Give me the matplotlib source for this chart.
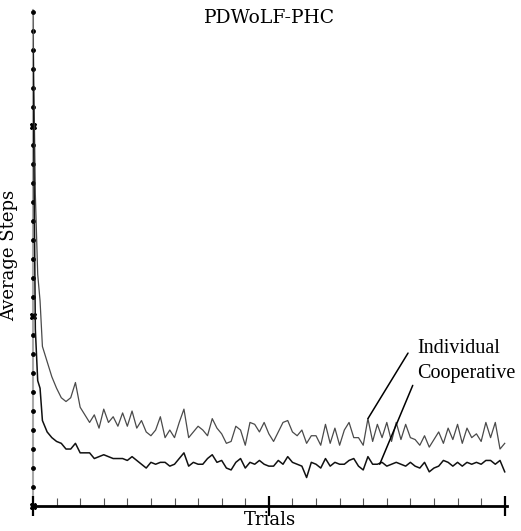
import matplotlib
matplotlib.use("Agg")
import matplotlib.pyplot as plt
from matplotlib.ticker import MultipleLocator

# Learning curves: average steps per trial, averaged over runs
trials = [0, 1, 2, 3] + list(range(4, 201, 2))

individual = [
    258, 164, 122, 108, 84,
    76, 68, 62, 57, 55, 57, 65, 52, 48, 44,
    48, 41, 51, 44, 47, 42, 49, 42, 50, 41,
    45, 39, 37, 40, 47, 36, 40, 36, 44, 51,
    36, 39, 42, 40, 37, 46, 41, 38, 33, 34,
    42, 40, 32, 44, 43, 39, 44, 38, 34, 39,
    44, 45, 39, 37, 40, 33, 37, 37, 32, 43,
    33, 41, 32, 40, 44, 36, 36, 32, 46, 34,
    43, 36, 44, 34, 44, 35, 43, 36, 35, 32,
    37, 31, 35, 39, 33, 41, 35, 43, 33, 41,
    36, 38, 34, 44, 36, 44, 30, 33,
]

cooperative = [
    240, 93, 66, 62, 45,
    39, 36, 34, 33, 30, 30, 33, 28, 28, 28,
    25, 26, 27, 26, 25, 25, 25, 24, 26, 24,
    22, 20, 23, 22, 23, 23, 21, 22, 25, 28,
    21, 23, 22, 22, 25, 27, 23, 24, 20, 19,
    23, 25, 20, 23, 22, 24, 22, 21, 21, 24,
    22, 26, 23, 22, 21, 15, 23, 22, 20, 25,
    21, 23, 22, 22, 24, 25, 21, 19, 26, 22,
    22, 23, 21, 22, 23, 22, 21, 23, 21, 20,
    23, 18, 20, 21, 24, 23, 21, 23, 21, 23,
    22, 23, 22, 24, 24, 22, 24, 18,
]

fig = plt.figure(figsize=(5.21, 5.31), dpi=100)
ax = fig.add_axes([0.0633, 0.047, 0.910, 0.934])

ax.plot(trials, individual, color="#4a4a4a", lw=0.9)
ax.plot(trials, cooperative, color="#111111", lw=1.1)

ax.set_xlim(0, 201)
ax.set_ylim(0, 261)

# axes: grey left spine with dot ticks, black bottom spine
for side in ("top", "right"):
    ax.spines[side].set_visible(False)
ax.spines["left"].set_color("#a8a8a8")
ax.spines["left"].set_linewidth(1.5)
ax.spines["left"].set_zorder(1)
ax.spines["bottom"].set_color("black")
ax.spines["bottom"].set_linewidth(2.0)

ax.xaxis.set_major_locator(MultipleLocator(100))
ax.xaxis.set_minor_locator(MultipleLocator(10))
ax.yaxis.set_major_locator(MultipleLocator(100))
ax.yaxis.set_minor_locator(MultipleLocator(10))
ax.tick_params(axis="x", which="minor", direction="in", length=6, width=0.8, color="#555555")
ax.tick_params(axis="x", which="major", direction="inout", length=14, width=1.6, color="black")
ax.tick_params(labelbottom=False, labelleft=False)

# y ticks drawn as solid round dots sitting on the spine
for tick in ax.yaxis.get_minor_ticks():
    tick.tick1line.set_marker("o")
    tick.tick1line.set_markersize(2.8)
    tick.tick1line.set_markerfacecolor("black")
    tick.tick1line.set_markeredgecolor("black")
for tick in ax.yaxis.get_major_ticks():
    tick.tick1line.set_marker("X")
    tick.tick1line.set_markersize(5)
    tick.tick1line.set_markerfacecolor("black")
    tick.tick1line.set_markeredgecolor("black")

serif = "DejaVu Serif"
ax.text(0.5, 0.984, "PDWoLF-PHC", transform=ax.transAxes, ha="center", va="center",
        fontsize=13.5, family=serif)
ax.set_ylabel("Average Steps", fontsize=13, family=serif)
ax.yaxis.set_label_coords(-0.032, 0.506)
ax.set_xlabel("Trials", fontsize=13, family=serif)
ax.xaxis.set_label_coords(0.5, -0.011)

# leader lines to the two curves
ax.annotate("", xy=(142, 46), xytext=(159, 80.5),
            arrowprops=dict(arrowstyle="-", color="black", lw=1.1, shrinkA=0, shrinkB=0))
ax.annotate("", xy=(147, 22), xytext=(161, 63.5),
            arrowprops=dict(arrowstyle="-", color="black", lw=1.1, shrinkA=0, shrinkB=0))
ax.text(163, 83, "Individual", fontsize=14.5, family="Liberation Serif", va="center")
ax.text(163, 69.5, "Cooperative", fontsize=14.5, family="Liberation Serif", va="center")

fig.savefig("out.png", dpi=100)
plt.close(fig)
